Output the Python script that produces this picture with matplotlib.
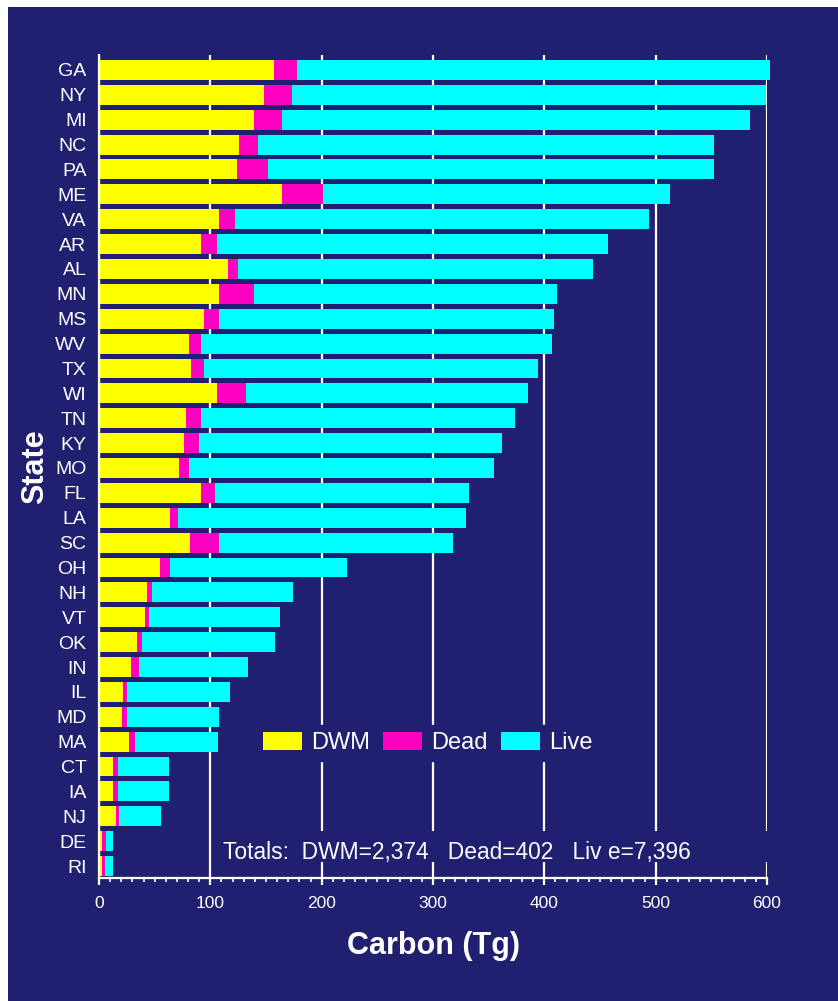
import numpy as np
import matplotlib
matplotlib.use("Agg")
import matplotlib.pyplot as plt
from matplotlib.patches import Rectangle
from matplotlib.ticker import MultipleLocator

plt.rcParams["font.family"] = ["Liberation Sans", "DejaVu Sans"]

NAVY = "#211F6F"

# carbon pools by state (Tg)
states = ["GA", "NY", "MI", "NC", "PA", "ME", "VA", "AR", "AL", "MN", "MS",
          "WV", "TX", "WI", "TN", "KY", "MO", "FL", "LA", "SC", "OH", "NH",
          "VT", "OK", "IN", "IL", "MD", "MA", "CT", "IA", "NJ", "DE", "RI"]
dwm = [157, 148, 139, 126, 124, 164, 108, 92, 116, 108, 94,
       81, 83, 106, 78, 76, 72, 92, 64, 82, 55, 43,
       41, 34, 29, 22, 21, 27, 13, 13, 15, 3, 3]
dead = [21, 25, 25, 17, 28, 37, 14, 14, 9, 31, 14,
        11, 11, 26, 14, 14, 9, 12, 7, 26, 9, 5,
        4, 5, 7, 3, 4, 5, 4, 4, 3, 3, 2]
live = [425, 426, 421, 409, 400, 312, 372, 351, 319, 272, 301,
        315, 300, 253, 282, 272, 274, 228, 259, 210, 159, 126,
        118, 119, 98, 93, 83, 75, 46, 46, 38, 7, 8]
totals_text = "Totals:  DWM=2,374   Dead=402   Liv e=7,396"

y = np.arange(len(states))
dwm = np.array(dwm)
dead = np.array(dead)
live = np.array(live)

fig = plt.figure(figsize=(8.38, 10.01), dpi=100)
fig.patch.set_facecolor("white")
fig.add_artist(Rectangle((8 / 838, 0), 1, 1 - 7 / 1001, transform=fig.transFigure,
                         facecolor=NAVY, edgecolor="none", zorder=0))

ax = fig.add_axes([99 / 838, 1 - 878 / 1001, 668 / 838, 823 / 1001])
ax.set_facecolor(NAVY)
ax.patch.set_alpha(0)

b1 = ax.barh(y, dwm, height=0.8, color="#FFFF00", label="DWM", zorder=3)
b2 = ax.barh(y, dead, left=dwm, height=0.8, color="#FF00C0", label="Dead", zorder=3)
b3 = ax.barh(y, live, left=dwm + dead, height=0.8, color="#00FFFF", label="Live", zorder=3)
for bars in (b1, b2, b3):
    for p in bars:
        p.set_clip_on(False)

ax.set_xlim(0, 600)
ax.set_ylim(len(states) - 0.52, -0.6)
ax.set_yticks(y)
ax.set_yticklabels(states)
ax.xaxis.set_major_locator(MultipleLocator(100))
ax.xaxis.set_minor_locator(MultipleLocator(10))
ax.grid(axis="x", color="white", linewidth=1.6, zorder=1)

for s in ["top", "right"]:
    ax.spines[s].set_visible(False)
for s in ["left", "bottom"]:
    ax.spines[s].set_color("white")
    ax.spines[s].set_linewidth(1.6)
    ax.spines[s].set_zorder(4)

ax.tick_params(axis="y", length=0, pad=9, labelsize=14, labelcolor="white")
ax.tick_params(axis="x", which="major", direction="out", length=5, width=1.6,
               color="white", labelsize=12.5, labelcolor="white", pad=8)
ax.tick_params(axis="x", which="minor", direction="out", length=3, width=1.2, color="white")

ax.set_xlabel("Carbon (Tg)", fontsize=22, fontweight="bold", color="white")
ax.set_ylabel("State", fontsize=22, fontweight="bold", color="white")
ax.xaxis.set_label_coords(0.5, -0.064)
ax.yaxis.set_label_coords(-0.073, 0.5)

leg = ax.legend(loc="center", bbox_to_anchor=(0.492, 0.164), ncol=3, fontsize=17,
                frameon=True, facecolor=NAVY, edgecolor=NAVY, framealpha=1,
                handlelength=1.65, handleheight=0.8, handletextpad=0.4,
                columnspacing=0.55, borderpad=0.3, borderaxespad=0, fancybox=False)
leg.set_zorder(5)
for t in leg.get_texts():
    t.set_color("white")

# navy patch behind the totals note, breaks the grid lines like the original
ax.add_patch(Rectangle((0.174, 0.019), 0.83, 0.038, transform=ax.transAxes,
                       facecolor=NAVY, edgecolor="none", zorder=2, clip_on=False))
ax.text(111, 31.45, totals_text, fontsize=16.4, color="white", va="center", ha="left", zorder=5)

fig.savefig("out.png", dpi=100, facecolor=fig.get_facecolor())
